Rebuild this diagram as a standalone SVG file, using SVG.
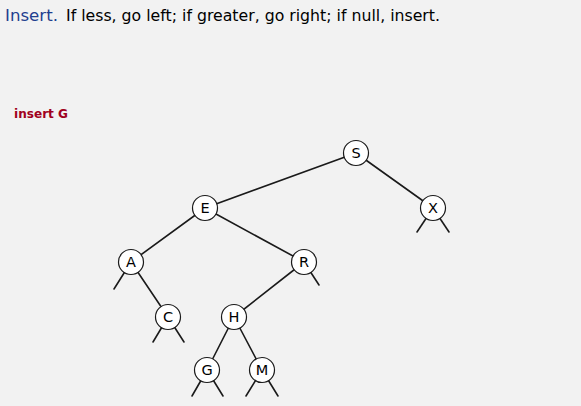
<svg xmlns="http://www.w3.org/2000/svg" width="581" height="406" viewBox="0 0 581 406">
<style>
.bg{fill:#f2f2f2}
.edge{stroke:#1a1a1a;stroke-width:1.6;fill:none;stroke-linecap:round}
.node circle{fill:#fff;stroke:#1a1a1a;stroke-width:1.2}
.node text{font-family:"DejaVu Sans","Liberation Sans",sans-serif;font-size:14.5px;fill:#000;text-anchor:middle;dominant-baseline:central}
</style>
<rect class="bg" x="0" y="0" width="581" height="406"/>
<text x="5" y="21" font-family="'DejaVu Sans','Liberation Sans',sans-serif" font-size="15" fill="#1f3f8f" textLength="53" lengthAdjust="spacingAndGlyphs">Insert.</text>
<text x="66" y="21" font-family="'DejaVu Sans','Liberation Sans',sans-serif" font-size="15" fill="#000" textLength="374" lengthAdjust="spacingAndGlyphs">If less, go left; if greater, go right; if null, insert.</text>
<text x="14" y="118" font-family="'DejaVu Sans','Liberation Sans',sans-serif" font-size="13" font-weight="bold" fill="#a00020" textLength="54" lengthAdjust="spacingAndGlyphs">insert G</text>
<g id="connectors">
<line class="edge" x1="356" y1="153" x2="205" y2="208"/>
<line class="edge" x1="356" y1="153" x2="433" y2="208"/>
<line class="edge" x1="433" y1="208" x2="417" y2="232"/>
<line class="edge" x1="433" y1="208" x2="449" y2="232"/>
<line class="edge" x1="205" y1="208" x2="131" y2="262"/>
<line class="edge" x1="205" y1="208" x2="304" y2="262"/>
<line class="edge" x1="131" y1="262" x2="114" y2="289"/>
<line class="edge" x1="131" y1="262" x2="168" y2="317"/>
<line class="edge" x1="304" y1="262" x2="319" y2="285"/>
<line class="edge" x1="304" y1="262" x2="234" y2="317"/>
<line class="edge" x1="168" y1="317" x2="153" y2="342"/>
<line class="edge" x1="168" y1="317" x2="184" y2="342"/>
<line class="edge" x1="234" y1="317" x2="207" y2="370"/>
<line class="edge" x1="234" y1="317" x2="262" y2="370"/>
<line class="edge" x1="207" y1="370" x2="192" y2="396"/>
<line class="edge" x1="207" y1="370" x2="223" y2="396"/>
<line class="edge" x1="262" y1="370" x2="246" y2="396"/>
<line class="edge" x1="262" y1="370" x2="278" y2="396"/>
</g>
<g id="node-S" class="node"><circle cx="356" cy="153" r="12.5"/><text x="356" y="153">S</text></g>
<g id="node-E" class="node"><circle cx="205" cy="208" r="12.5"/><text x="205" y="208">E</text></g>
<g id="node-X" class="node"><circle cx="433" cy="208" r="12.5"/><text x="433" y="208">X</text></g>
<g id="node-A" class="node"><circle cx="131" cy="262" r="12.5"/><text x="131" y="262">A</text></g>
<g id="node-R" class="node"><circle cx="304" cy="262" r="12.5"/><text x="304" y="262">R</text></g>
<g id="node-C" class="node"><circle cx="168" cy="317" r="12.5"/><text x="168" y="317">C</text></g>
<g id="node-H" class="node"><circle cx="234" cy="317" r="12.5"/><text x="234" y="317">H</text></g>
<g id="node-G" class="node"><circle cx="207" cy="370" r="12.5"/><text x="207" y="370">G</text></g>
<g id="node-M" class="node"><circle cx="262" cy="370" r="12.5"/><text x="262" y="370">M</text></g>
</svg>
